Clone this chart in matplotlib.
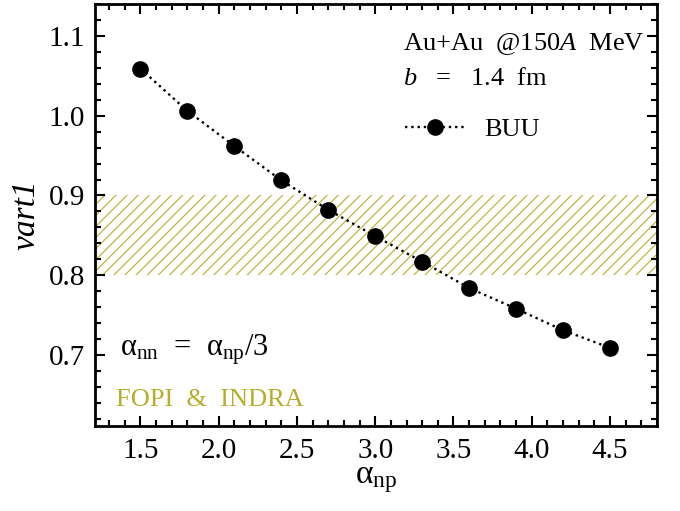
import matplotlib
matplotlib.use("Agg")
import matplotlib.pyplot as plt
from matplotlib.ticker import MultipleLocator

plt.rcParams['font.family'] = ['Liberation Serif', 'DejaVu Serif']
plt.rcParams['mathtext.fontset'] = 'custom'
plt.rcParams['mathtext.rm'] = 'Liberation Serif'
plt.rcParams['mathtext.it'] = 'Liberation Serif:italic'
plt.rcParams['hatch.linewidth'] = 0.8

alpha_np = [1.5, 1.8, 2.1, 2.4, 2.7, 3.0, 3.3, 3.6, 3.9, 4.2, 4.5]
buu = [1.059, 1.006, 0.962, 0.919, 0.882, 0.849, 0.817, 0.784, 0.758, 0.731, 0.709]
band = [0.80, 0.90]
band_color = '#b8ad2c'
xticks = [1.5, 2.0, 2.5, 3.0, 3.5, 4.0, 4.5]
yticks = [0.7, 0.8, 0.9, 1.0, 1.1]

fig = plt.figure(figsize=(6.8, 5.11), dpi=100)
ax = fig.add_axes([95/680, 1-426/511, (657-95)/680, (426-4)/511])

ax.fill_between([1.0, 5.0], band[0], band[1], facecolor='none', edgecolor=band_color,
                hatch='///', linewidth=0)
ax.plot(alpha_np, buu, ':', color='black', lw=1.7, marker='o', ms=11, mfc='black',
        mec='black', label='BUU')

ax.set_xlim(1.21, 4.80)
ax.set_ylim(0.611, 1.14)
ax.xaxis.set_minor_locator(MultipleLocator(0.1))
ax.yaxis.set_minor_locator(MultipleLocator(0.02))
ax.set_xticks(xticks)
ax.set_xticklabels([f'{v:.1f}' for v in xticks])
ax.set_yticks(yticks)
ax.set_yticklabels([f'{v:.1f}' for v in yticks])
ax.tick_params(which='both', direction='in', top=True, right=True, width=1.5, labelsize=21)
ax.tick_params(which='major', length=7)
ax.tick_params(which='minor', length=4)
ax.tick_params(axis='x', pad=9)
ax.tick_params(axis='y', pad=7)
for s in ax.spines.values():
    s.set_linewidth(2)

ax.set_xlabel('α$_{\\rm np}$', fontsize=24, labelpad=0)
ax.set_ylabel('vart1', fontsize=24, style='italic', labelpad=5)

ax.text(0.548, 0.905, 'Au+Au  @150$A$  MeV', transform=ax.transAxes, ha='left', va='center', fontsize=19)
ax.text(0.548, 0.822, '$b$   =   1.4  fm', transform=ax.transAxes, ha='left', va='center', fontsize=19)
ax.legend(loc='center left', bbox_to_anchor=(0.552, 0.703), frameon=False, fontsize=19,
          handlelength=2.25, handletextpad=0.75, borderaxespad=0, borderpad=0)
ax.text(0.045, 0.18, 'α$_{\\rm nn}$  =  α$_{\\rm np}$/3', transform=ax.transAxes,
        ha='left', va='center', fontsize=22)
ax.text(0.038, 0.062, 'FOPI  &  INDRA', transform=ax.transAxes, ha='left', va='center',
        fontsize=19, color=band_color)

fig.savefig('out.png', dpi=100)
